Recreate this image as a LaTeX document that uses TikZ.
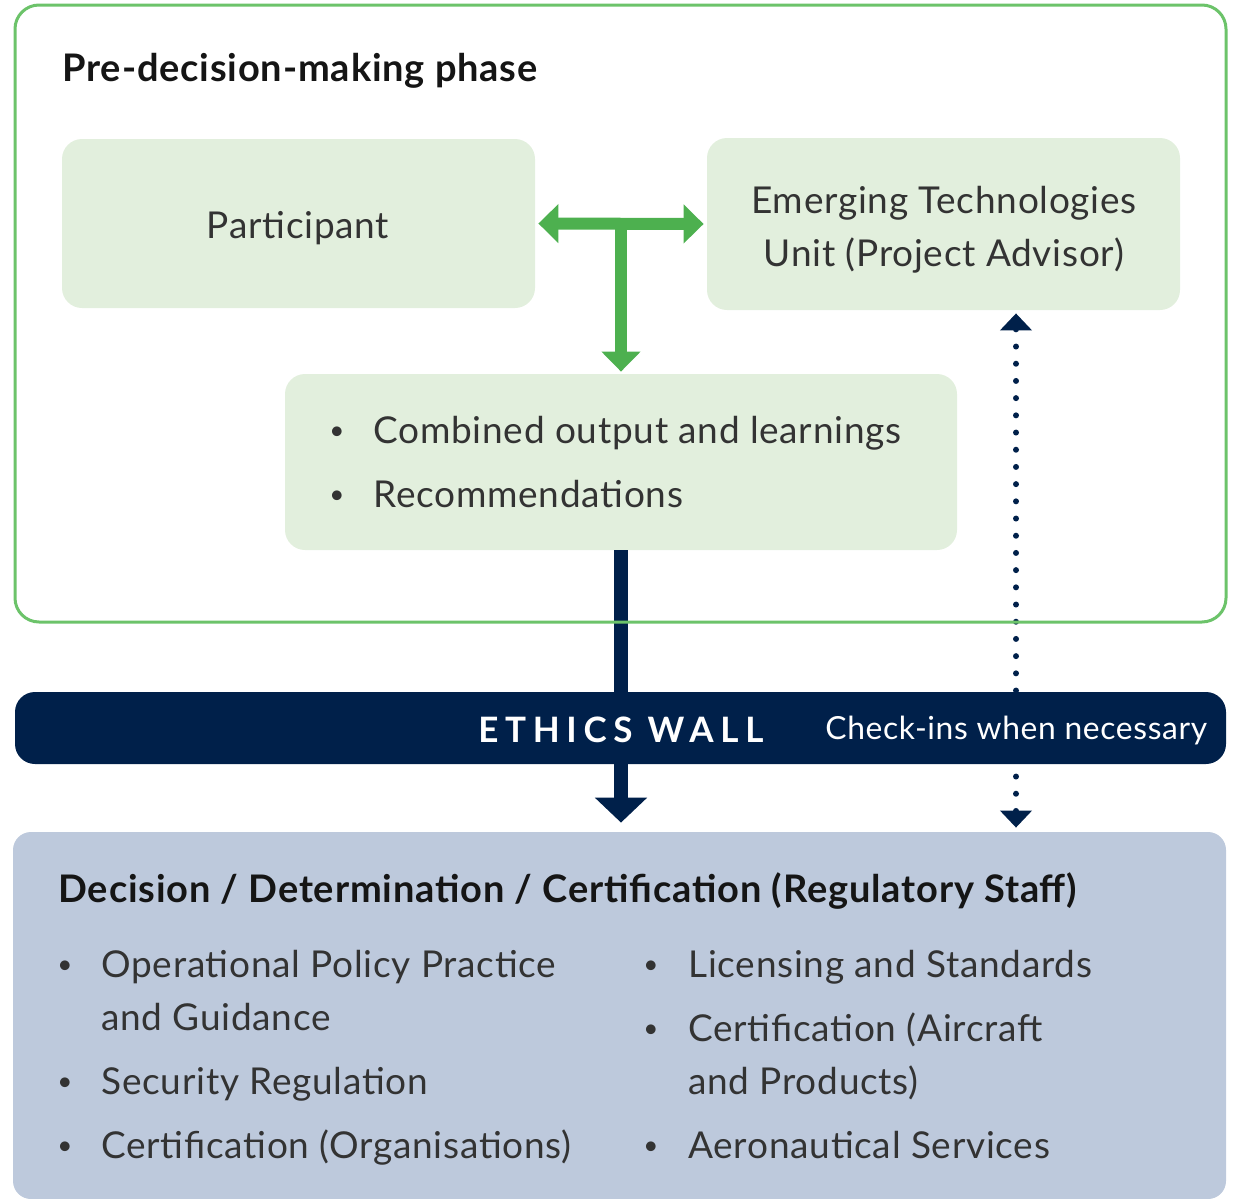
\documentclass[tikz,border=0pt]{standalone}
\usepackage{fontspec}
\setmainfont{Lato}
\usetikzlibrary{arrows.meta,fit}
\definecolor{gline}{HTML}{6CC36A}
\definecolor{garrow}{HTML}{4DB04F}
\definecolor{gfill}{HTML}{E2EFDD}
\definecolor{navy}{HTML}{00204A}
\definecolor{bfill}{HTML}{BDC9DC}
\definecolor{txt}{HTML}{333333}
\definecolor{headtxt}{HTML}{151515}
\begin{document}
\begin{tikzpicture}[x=0.5pt,y=-0.5pt,
  greenbox/.style={fill=gfill, rounded corners=10pt, inner sep=0pt},
  body/.style={font=\fontsize{18.5}{22}\selectfont\addfontfeature{LetterSpace=2}, text=txt, inner sep=0pt},
  heading/.style={font=\fontsize{19}{23}\selectfont\bfseries\addfontfeature{LetterSpace=2.2}, text=headtxt, inner sep=0pt},
  bul/.style={font=\fontsize{13}{16}\selectfont, text=txt, inner sep=0pt, anchor=base},
  gconn/.style={draw=garrow, line width=6pt},
  gtip/.tip={Triangle[width=19pt,length=10pt]},
  ntip/.tip={Triangle[width=25.5pt,length=12.5pt]},
  dtip/.tip={Triangle[width=15.5pt,length=8.5pt]}
]
\useasboundingbox (0,0) rectangle (1238,1199);

% boxes
\node[greenbox, fit={(62,139) (535,308)}] (part) {};
\node[greenbox, fit={(707,138) (1180,310)}] (etu) {};
\node[greenbox, fit={(285,374) (957,550)}] (comb) {};
\node[fill=bfill, rounded corners=9pt, inner sep=0pt, fit={(13,832) (1226,1199)}] (dec) {};

% texts upper
\node[heading, anchor=base west] (title) at (62,81) {Pre-decision-making phase};
\node[body, anchor=base] (tpart) at (298,238) {Participant};
\node[body, anchor=base] (tetu1) at (944,213) {Emerging Technologies};
\node[body, anchor=base] (tetu2) at (944,266) {Unit (Project Advisor)};
\node[bul] (bc1) at (337,443) {\raisebox{1.6pt}{\textbullet}};
\node[body, anchor=base west] (tc1) at (373,443) {Combined output and learnings};
\node[bul] (bc2) at (337,507) {\raisebox{1.6pt}{\textbullet}};
\node[body, anchor=base west] (tc2) at (373,507) {Recommendations};

% green T arrow
\coordinate (tj) at (621,224);
\draw[gconn, gtip-gtip, shorten <=1.5pt, shorten >=1.5pt] (part.east) -- (etu.west);
\draw[gconn, -gtip, shorten >=1pt] (tj) -- (comb.north);

% dotted check-in line
\draw[navy, line width=3pt, line cap=round, dash pattern=on 0pt off 8.6pt,
  dtip-dtip, shorten <=1.5pt, shorten >=2pt]
  ([xshift=36.25pt]etu.south) -- ([xshift=198.25pt]dec.north);

% navy arrow
\draw[navy, line width=7pt, -ntip, shorten >=4.5pt] (comb.south) -- (comb.south |- dec.north);

% ethics wall
\node[fill=navy, rounded corners=10pt, inner sep=0pt, fit={(15,692) (1226,764)}] (wall) {};
\node[font=\fontsize{17.5}{21}\selectfont\bfseries, text=white, inner sep=0pt, anchor=base west] (ew) at (478,742) {\addfontfeature{LetterSpace=19}ETHICS WALL};
\node[font=\fontsize{15.9}{19}\selectfont\addfontfeature{LetterSpace=2}, text=white, inner sep=0pt, anchor=base west] (ci) at (825,739) {Check-ins when necessary};

% outer phase frame
\node[draw=gline, line width=1.5pt, rounded corners=12pt, inner sep=0pt, fit={(15,5) (1226,622)}] (phase) {};

% bottom texts
\node[heading, anchor=base west] (dtitle) at (58,902) {Decision / Determination / Certification (Regulatory Staff)};
\node[bul] (bl1) at (65,977) {\raisebox{1.6pt}{\textbullet}};
\node[body, anchor=base west] (tl1) at (101,977) {Operational Policy Practice};
\node[body, anchor=base west] (tl1b) at (101,1030) {and Guidance};
\node[bul] (bl2) at (65,1094) {\raisebox{1.6pt}{\textbullet}};
\node[body, anchor=base west] (tl2) at (101,1094) {Security Regulation};
\node[bul] (bl3) at (65,1158) {\raisebox{1.6pt}{\textbullet}};
\node[body, anchor=base west] (tl3) at (101,1158) {Certification (Organisations)};
\node[bul] (br1) at (651,977) {\raisebox{1.6pt}{\textbullet}};
\node[body, anchor=base west] (tr1) at (688,977) {Licensing and Standards};
\node[bul] (br2) at (651,1041) {\raisebox{1.6pt}{\textbullet}};
\node[body, anchor=base west] (tr2) at (688,1041) {Certification (Aircraft};
\node[body, anchor=base west] (tr2b) at (688,1094) {and Products)};
\node[bul] (br3) at (651,1158) {\raisebox{1.6pt}{\textbullet}};
\node[body, anchor=base west] (tr3) at (688,1158) {Aeronautical Services};
\end{tikzpicture}
\end{document}
